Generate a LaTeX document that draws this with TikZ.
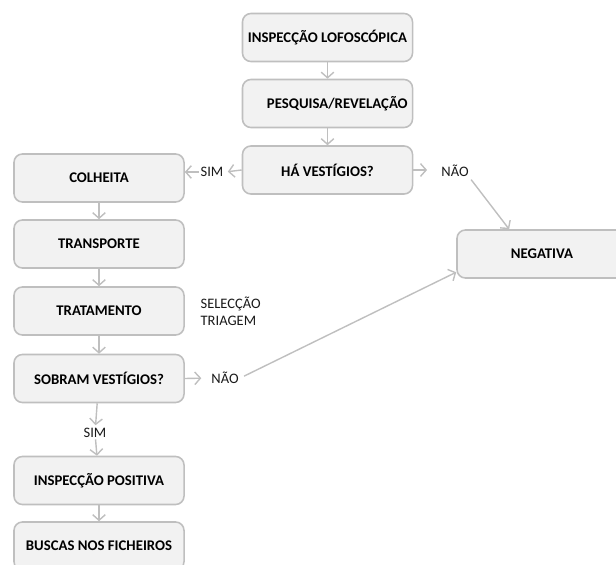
\documentclass[tikz,border=0pt]{standalone}
\usepackage{fontspec}
\setmainfont{Carlito}
\usepackage{tikz}
\usetikzlibrary{arrows.meta}
\definecolor{caixafundo}{HTML}{F2F2F2}
\definecolor{caixalinha}{HTML}{BFBFBF}
\tikzset{
  etapa/.style={draw=caixalinha, line width=1.1pt, fill=caixafundo, rounded corners=6pt,
    minimum width=4.25cm, minimum height=1.2cm, inner sep=2pt,
    font=\bfseries\fontsize{10.5}{12}\selectfont, text=black},
  rotulo/.style={font=\fontsize{10.3}{12}\selectfont, text=black!90, inner sep=1pt},
  seta/.style={draw=caixalinha, line width=1pt, -{Straight Barb[length=4pt,width=9pt]}}
}

\begin{document}
\begin{tikzpicture}[x=0.025cm, y=-0.025cm]
\clip (0,0) rectangle (616,564);
\node[etapa] (inspeccao) at (327.5,37.5) {INSPECÇÃO LOFOSCÓPICA};
\node[etapa] (pesquisa) at (327.5,103.5) {\hspace{14pt}PESQUISA/REVELAÇÃO};
\node[etapa] (havest) at (327.5,170) {HÁ VESTÍGIOS?};
\node[etapa] (colheita) at (99,178) {COLHEITA};
\node[etapa] (transporte) at (99,244) {TRANSPORTE};
\node[etapa] (tratamento) at (99,311) {TRATAMENTO};
\node[etapa] (sobram) at (99,378.5) {SOBRAM VESTÍGIOS?};
\node[etapa] (positiva) at (99,480.5) {INSPECÇÃO POSITIVA};
\node[etapa] (buscas) at (99,546) {BUSCAS NOS FICHEIROS};
\node[etapa] (negativa) at (542,254) {NEGATIVA};

\node[rotulo] (sima) at (212,172) {SIM};
\node[rotulo] (naoa) at (455,171) {NÃO};
\node[rotulo] (naob) at (225,378) {NÃO};
\node[rotulo] (simb) at (95,433) {SIM};
\node[rotulo, anchor=north west, align=left] (seleccao) at (199,295) {SELECÇÃO\\TRIAGEM};

\draw[seta] (inspeccao) -- (pesquisa);
\draw[seta] (pesquisa) -- (havest);
\draw[seta, shorten >=2pt] (havest.west) -- (sima.east);
\draw[seta] (sima.west) -- (sima.west -| colheita.east);
\draw[seta, shorten >=9pt] (havest.east) -- (naoa.west |- havest.east);
\draw[seta, shorten <=1pt] (naoa.south east) -- (negativa.143);
\draw[seta] (colheita) -- (transporte);
\draw[seta] (transporte) -- (tratamento);
\draw[seta] (tratamento) -- (sobram);
\draw[seta, shorten >=6pt] (sobram.east) -- (naob.west);
\draw[seta, shorten <=3pt] (naob.east) -- (negativa.192);
\draw[seta, shorten >=1pt] (sobram) -- (simb);
\draw[seta] (simb) -- (positiva);
\draw[seta] (positiva) -- (buscas);
\end{tikzpicture}
\end{document}
